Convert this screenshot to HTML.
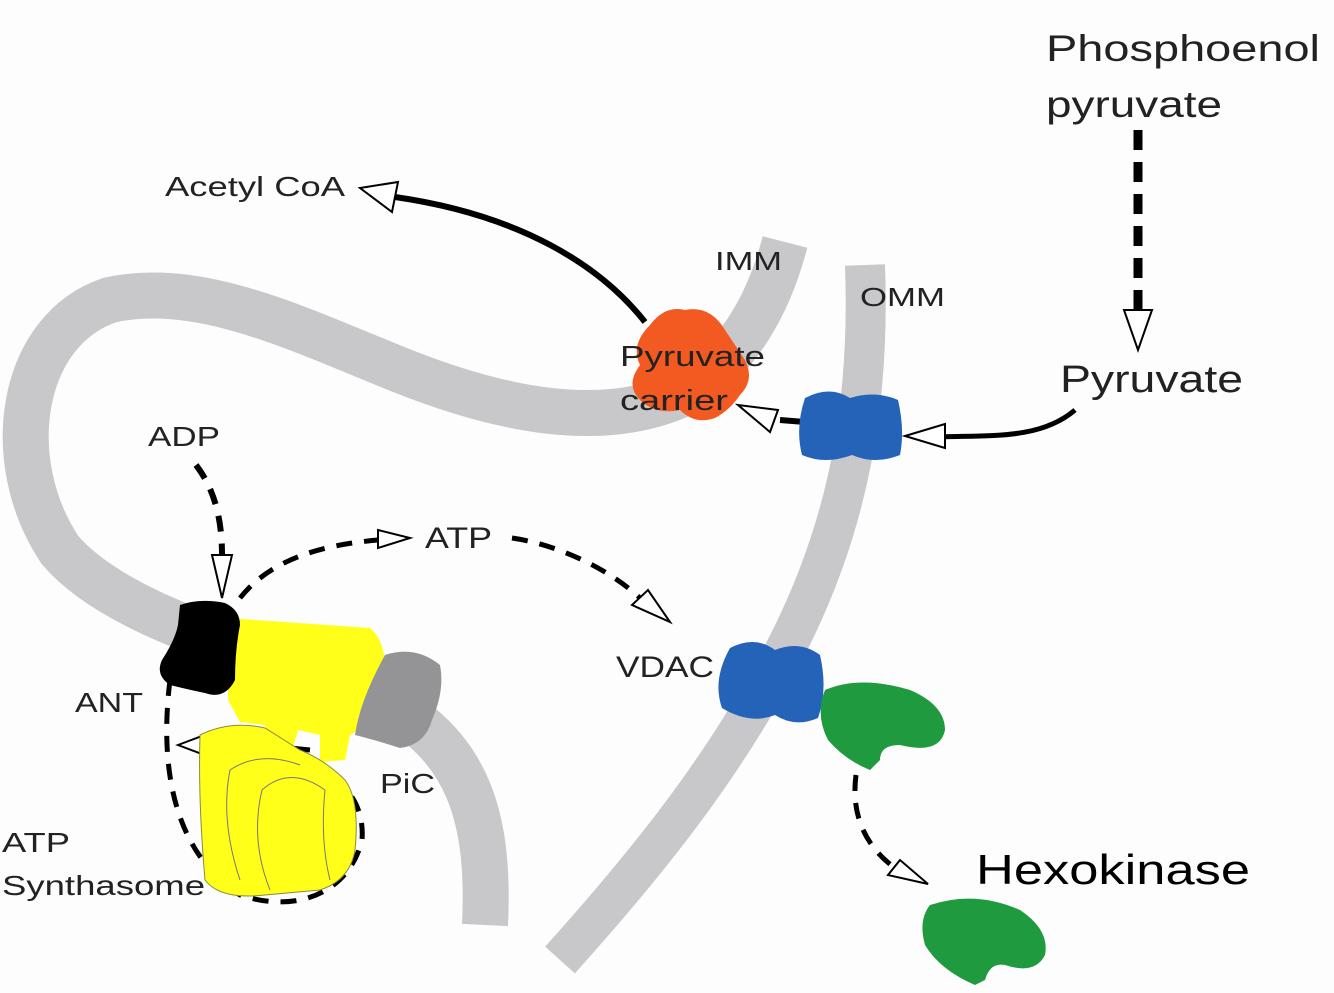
<!DOCTYPE html>
<html><head><meta charset="utf-8"><style>
html,body{margin:0;padding:0;background:#fdfdfd;}
svg{display:block;}
text{font-family:"Liberation Sans",sans-serif;fill:#222;}
</style></head><body>
<svg width="1334" height="993" viewBox="0 0 1334 993" xmlns="http://www.w3.org/2000/svg">
<rect width="1334" height="993" fill="#fdfdfd"/>
<!-- IMM -->
<path d="M785,242 C770,300 740,360 680,395 C600,430 500,410 400,370 C300,330 200,280 110,300 C20,330 0,460 60,550 C120,620 260,650 380,700 C470,745 490,820 485,925" fill="none" stroke="#c8c8ca" stroke-width="46"/>
<!-- OMM -->
<path d="M865,265 C870,400 850,520 790,640 C730,760 650,860 560,960" fill="none" stroke="#c8c8ca" stroke-width="40"/>

<!-- Acetyl CoA arrow -->
<path d="M645,322 C600,265 520,215 395,197" fill="none" stroke="#000" stroke-width="6"/>
<polygon points="360,188 398,182 392,212" fill="#fff" stroke="#000" stroke-width="2"/>

<!-- Pyruvate carrier -->
<path d="M650,325 Q665,305 685,310 Q710,305 725,330 Q735,345 745,360 Q755,380 740,395 Q730,410 715,418 Q695,425 680,410 Q655,415 640,400 Q625,385 640,365 Q630,345 650,325Z" fill="#f25a22"/>
<text x="620" y="366" font-size="29" textLength="145" lengthAdjust="spacingAndGlyphs">Pyruvate</text>
<text x="620" y="410" font-size="29" textLength="108" lengthAdjust="spacingAndGlyphs">carrier</text>

<!-- pyruvate to carrier -->
<path d="M1075,410 C1040,440 990,435 935,437" fill="none" stroke="#000" stroke-width="5"/>
<polygon points="905,436 945,424 945,448" fill="#fff" stroke="#000" stroke-width="2"/>
<line x1="780" y1="420" x2="805" y2="422" stroke="#000" stroke-width="6"/>
<polygon points="738,405 778,410 770,432" fill="#fff" stroke="#000" stroke-width="2"/>

<!-- blue upper -->
<path d="M805,398 Q830,385 850,398 Q875,390 898,400 Q905,430 900,455 Q875,465 852,455 Q825,465 802,455 Q795,428 805,398Z" fill="#2563b8"/>
<!-- VDAC -->
<path d="M730,648 Q755,635 775,650 Q800,640 820,655 Q828,690 818,718 Q795,728 775,715 Q750,725 722,708 Q712,680 730,648Z" fill="#2563b8"/>

<!-- green hexokinase -->
<path d="M825,690 Q860,675 910,690 Q945,705 945,730 Q940,755 900,745 Q880,745 880,760 L870,770 Q845,760 828,740 Q815,715 825,690Z" fill="#1f9a3e"/>
<path d="M930,905 Q975,890 1020,910 Q1050,930 1045,955 Q1035,975 1005,965 Q990,962 985,980 L975,985 Q940,970 925,945 Q918,920 930,905Z" fill="#1f9a3e"/>

<!-- Phosphoenol dashed -->
<line x1="1138" y1="130" x2="1138" y2="310" stroke="#000" stroke-width="9" stroke-dasharray="20,12"/>
<polygon points="1124,310 1152,310 1138,350" fill="#fff" stroke="#000" stroke-width="2"/>

<!-- ADP dashed -->
<path d="M196,465 C215,490 222,520 222,555" fill="none" stroke="#000" stroke-width="6" stroke-dasharray="16,12"/>
<polygon points="212,555 232,555 222,598" fill="#fff" stroke="#000" stroke-width="2"/>
<!-- ATP dashed -->
<path d="M240,598 C270,560 320,545 378,540" fill="none" stroke="#000" stroke-width="5" stroke-dasharray="16,12"/>
<polygon points="378,530 410,538 378,548" fill="#fff" stroke="#000" stroke-width="2"/>
<path d="M512,538 C560,545 610,570 640,598" fill="none" stroke="#000" stroke-width="5" stroke-dasharray="16,12"/>
<polygon points="632,605 648,590 670,622" fill="#fff" stroke="#000" stroke-width="2"/>
<!-- hexokinase dashed -->
<path d="M856,775 C850,820 870,850 895,868" fill="none" stroke="#000" stroke-width="5" stroke-dasharray="16,12"/>
<polygon points="888,875 900,860 928,884" fill="#fff" stroke="#000" stroke-width="2"/>

<!-- synthasome dashed circle -->
<path d="M170,680 C160,760 170,850 240,895 C300,915 350,890 362,840 C365,800 340,780 320,770" fill="none" stroke="#000" stroke-width="5" stroke-dasharray="16,12"/>
<path d="M310,750 L260,745" fill="none" stroke="#000" stroke-width="5"/>
<polygon points="178,745 210,733 210,757" fill="#fff" stroke="#000" stroke-width="2"/>

<!-- yellow synthase -->
<path d="M228,618 L370,628 Q385,640 385,670 L385,715 L350,735 L345,760 L320,762 L320,735 L298,730 L290,758 L270,750 L265,725 L240,722 L228,700Z" fill="#ffff1a"/>
<path d="M200,735 Q230,720 265,728 L300,750 Q325,760 345,780 Q360,800 355,850 Q350,880 320,890 L265,895 Q220,900 205,880 Q198,800 200,735Z" fill="#ffff1a" stroke="#8a8a40" stroke-width="1"/>
<path d="M230,770 Q260,750 300,765" fill="none" stroke="#777" stroke-width="1"/>
<path d="M262,790 Q290,765 325,790" fill="none" stroke="#777" stroke-width="1"/>
<path d="M230,770 Q220,820 240,880 M262,790 Q250,840 270,890 M325,790 Q320,840 330,880" fill="none" stroke="#777" stroke-width="1"/>
<!-- ANT black -->
<path d="M180,605 Q200,598 225,603 Q240,610 240,625 Q235,650 235,680 Q225,700 205,693 Q190,690 170,685 Q155,675 162,660 Q175,640 178,625Z" fill="#000"/>
<!-- PiC gray -->
<path d="M385,655 Q415,645 440,665 Q445,690 432,720 Q425,745 400,748 Q375,740 355,735 Q360,700 385,655Z" fill="#949496"/>

<!-- labels -->
<text x="165" y="196" font-size="28" textLength="180" lengthAdjust="spacingAndGlyphs">Acetyl CoA</text>
<text x="715" y="270" font-size="26" textLength="67" lengthAdjust="spacingAndGlyphs">IMM</text>
<text x="860" y="306" font-size="26" textLength="85" lengthAdjust="spacingAndGlyphs">OMM</text>
<text x="1046" y="61" font-size="37" textLength="274" lengthAdjust="spacingAndGlyphs">Phosphoenol</text>
<text x="1046" y="117" font-size="37" textLength="176" lengthAdjust="spacingAndGlyphs">pyruvate</text>
<text x="1060" y="392" font-size="38" textLength="183" lengthAdjust="spacingAndGlyphs">Pyruvate</text>
<text x="148" y="446" font-size="28" textLength="72" lengthAdjust="spacingAndGlyphs">ADP</text>
<text x="425" y="548" font-size="30" textLength="67" lengthAdjust="spacingAndGlyphs">ATP</text>
<text x="616" y="677" font-size="30" textLength="98" lengthAdjust="spacingAndGlyphs">VDAC</text>
<text x="75" y="712" font-size="28" textLength="68" lengthAdjust="spacingAndGlyphs">ANT</text>
<text x="380" y="793" font-size="28" textLength="55" lengthAdjust="spacingAndGlyphs">PiC</text>
<text x="2" y="852" font-size="28" textLength="68" lengthAdjust="spacingAndGlyphs">ATP</text>
<text x="2" y="895" font-size="28" textLength="203" lengthAdjust="spacingAndGlyphs">Synthasome</text>
<text x="976" y="884" font-size="42" style="fill:#000" textLength="274" lengthAdjust="spacingAndGlyphs">Hexokinase</text>
</svg>
</body></html>
